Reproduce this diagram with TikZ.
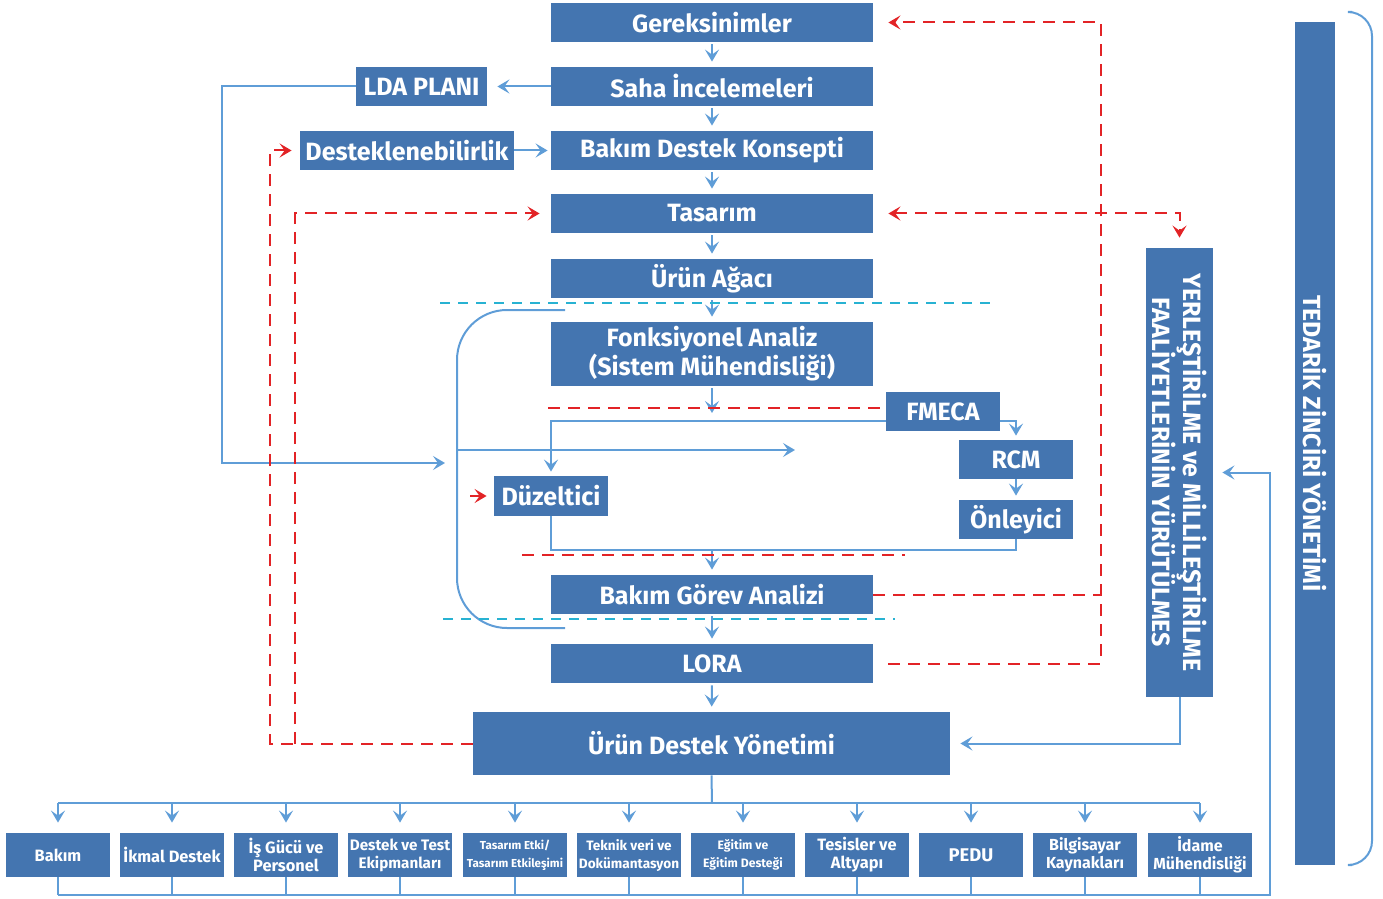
\documentclass[tikz,border=0pt]{standalone}
\usepackage{fontspec}
\setmainfont{Fira Sans}
\usetikzlibrary{arrows.meta}
\definecolor{kutumavi}{RGB}{68,117,176}
\definecolor{cizgimavi}{RGB}{95,157,215}
\definecolor{kesikkirmizi}{RGB}{226,35,38}
\definecolor{kesikcamgobegi}{RGB}{40,178,210}
\tikzset{
  kutu/.style={fill=kutumavi,text=white,font=\fontsize{12.5}{13}\selectfont\bfseries,inner sep=0pt,align=center,minimum height=19.5pt},
  ana/.style={kutu,minimum width=161pt},
  yan/.style={kutu,minimum width=57pt},
  altkutu/.style={kutu,minimum width=52pt,minimum height=22pt},
  mavi/.style={draw=cizgimavi,line width=1pt},
  ok/.style={mavi,-{Stealth[length=6pt,width=7pt,inset=2.5pt]}},
  kirmizi/.style={draw=kesikkirmizi,line width=1pt,dash pattern=on 6pt off 4pt},
  kok/.style={kirmizi,-{Stealth[length=6pt,width=7pt,inset=2.5pt]}},
  kcift/.style={kirmizi,{Stealth[length=6pt,width=7pt,inset=2.5pt]}-{Stealth[length=6pt,width=7pt,inset=2.5pt]}},
  camgobegi/.style={draw=kesikcamgobegi,line width=1pt,dash pattern=on 5pt off 4pt}
}
\begin{document}
\begin{tikzpicture}[x=0.5pt,y=-0.5pt]
                \useasboundingbox (0,0) rectangle (1383,899);
                \node[ana] (ger) at (712,22.5) {Gereksinimler};
                \node[ana] (saha) at (712,86.5) {Saha İncelemeleri};
                \node[kutu,minimum width=65.5pt] (lda) at (421.5,86.5) {LDA PLANI};
                \node[ana] (bdk) at (712,150.5) {Bakım Destek Konsepti};
                \node[kutu,minimum width=107pt] (dest) at (407,150.5) {Desteklenebilirlik};
                \node[ana] (tas) at (712,213.5) {Tasarım};
                \node[ana] (agac) at (712,278.5) {Ürün Ağacı};
                \node[ana,minimum height=32pt,font=\fontsize{12.5}{12}\selectfont\bfseries] (fonk) at (712,354) {Fonksiyonel Analiz\\(Sistem Mühendisliği)};
                \node[yan] (fmeca) at (943,411.5) {FMECA};
                \node[yan] (rcm) at (1016,459.5) {RCM};
                \node[yan] (onl) at (1016,519.5) {Önleyici};
                \node[yan,minimum height=20pt] (duz) at (551,496) {Düzeltici};
                \node[ana] (bga) at (712,594.5) {Bakım Görev Analizi};
                \node[ana] (lora) at (712,663.5) {LORA};
                \node[kutu,minimum width=238.5pt,minimum height=31.5pt] (udy) at (711.5,743.5) {Ürün Destek Yönetimi};
                \node[kutu,minimum width=33.5pt,minimum height=224.5pt] (yer) at (1179.5,472.5) {};
                \node[rotate=-90,text=white,align=center,font=\fontsize{12.5}{14.5}\selectfont\bfseries] (yeryazi) at (yer.center) {YERLEŞTİRİLME ve MİLLİLEŞTİRİLME\\FAALİYETLERİNİN YÜRÜTÜLMES};
                \node[kutu,minimum width=20pt,minimum height=421.5pt] (ted) at (1315,443.5) {};
                \node[rotate=-90,text=white,font=\fontsize{12.4}{14}\selectfont\bfseries] (tedyazi) at (ted.center) {TEDARİK ZİNCİRİ YÖNETİMİ};
                \foreach \ad/\x/\yazi/\bt in {b1/58/{Bakım}/8.2, b2/172/{İkmal Destek}/8.2, b3/286/{İş Gücü ve\\Personel}/8.2, b4/400/{Destek ve Test\\Ekipmanları}/7.6, b5/515/{Tasarım Etki/\\Tasarım Etkileşimi}/5.8, b6/629/{Teknik veri ve\\Dokümantasyon}/6.8, b7/743/{Eğitim ve\\Eğitim Desteği}/6.1, b8/857/{Tesisler ve\\Altyapı}/8.2, b9/971/{PEDU}/9.2, b10/1085/{Bilgisayar\\Kaynakları}/8, b11/1200/{İdame\\Mühendisliği}/8}
                {
                \node[altkutu,font=\fontsize{\bt}{9}\selectfont\bfseries] (\ad) at (\x,855) {\yazi};
                \draw[ok,shorten >=5pt] (\x,803) -- (\ad.north);
                \draw[mavi] (\ad.south) -- (\x,895);
                }
                \draw[ok,shorten >=2.5pt,shorten <=1pt] (ger) -- (saha);
                \draw[ok,shorten >=2.5pt,shorten <=1pt] (saha) -- (bdk);
                \draw[ok,shorten >=2.5pt,shorten <=1pt] (bdk) -- (tas);
                \draw[ok,shorten >=2.5pt,shorten <=1pt] (tas) -- (agac);
                \draw[ok,shorten >=2.5pt,shorten <=1pt] (agac) -- (fonk);
                \draw[ok,shorten >=5pt] (saha) -- (lda);
                \draw[ok,shorten >=1.5pt] (dest) -- (bdk);
                \coordinate (sol) at (445,463);
                \draw[ok] (lda.west) -- (222,86.5) |- (sol);
                \coordinate (fonkuc) at (712,413);
                \draw[ok,shorten <=1pt] (fonk) -- (fonkuc);
                \draw[ok,shorten >=2pt] ([yshift=-4.75pt]fmeca.west) -| (duz.north);
                \draw[ok,shorten >=2pt] ([yshift=-4.75pt]fmeca.east) -| (rcm.north);
                \draw[ok,shorten >=2pt] (rcm) -- (onl);
                \coordinate (birles) at (712,550);
                \draw[mavi] (onl.south) |- (birles) -| (duz.south);
                \draw[ok,shorten >=2.5pt] (birles) -- (bga.north);
                \draw[ok,shorten >=2.5pt,shorten <=1pt] (bga) -- (lora);
                \draw[ok,shorten >=2.5pt,shorten <=1pt] (lora) -- (udy);
                \draw[mavi,rounded corners=25pt] (565,310) -| (457,628) -- (565,628);
                \coordinate (orta) at (795,450);
                \draw[ok] (457,450) -- (orta);
                \draw[ok,shorten >=5pt] (yer.south) |- (udy.east);
                \coordinate (ust) at (712,803);
                \draw[mavi] (udy.south) -- (ust);
                \draw[mavi] (58,803) -- (1200,803);
                \draw[ok,shorten >=4.5pt] (58,895) -- (1270,895) |- (yer.east);
                \coordinate (sagust) at (1101,22.5);
                \draw[kok,shorten >=7.5pt] ([xshift=7.5pt]lora.east) -| (sagust) -- (ger.east);
                \draw[kirmizi] (bga.east) -- (1101,594.5);
                \draw[kcift,shorten <=7.5pt,shorten >=5pt] (tas.east) -| (yer.north);
                \draw[kok,shorten >=4pt] (udy.west) -| (270,150.5) -- (dest.west);
                \draw[kok,shorten >=5.5pt] (295,743.5) |- (tas.west);
                \draw[kirmizi] (548,408) -- (fmeca.west |- 548,408);
                \draw[kirmizi] (522,555) -- (905,555);
                \draw[kok,shorten >=3.5pt] (470,496) -- (duz.west);
                \draw[camgobegi] (440,303) -- (990,303);
                \draw[camgobegi] (443,619) -- (895,619);
                \draw[mavi,rounded corners=12pt] (1352,12) -| (1372,865) -- (1352,865);
\end{tikzpicture}
\end{document}
